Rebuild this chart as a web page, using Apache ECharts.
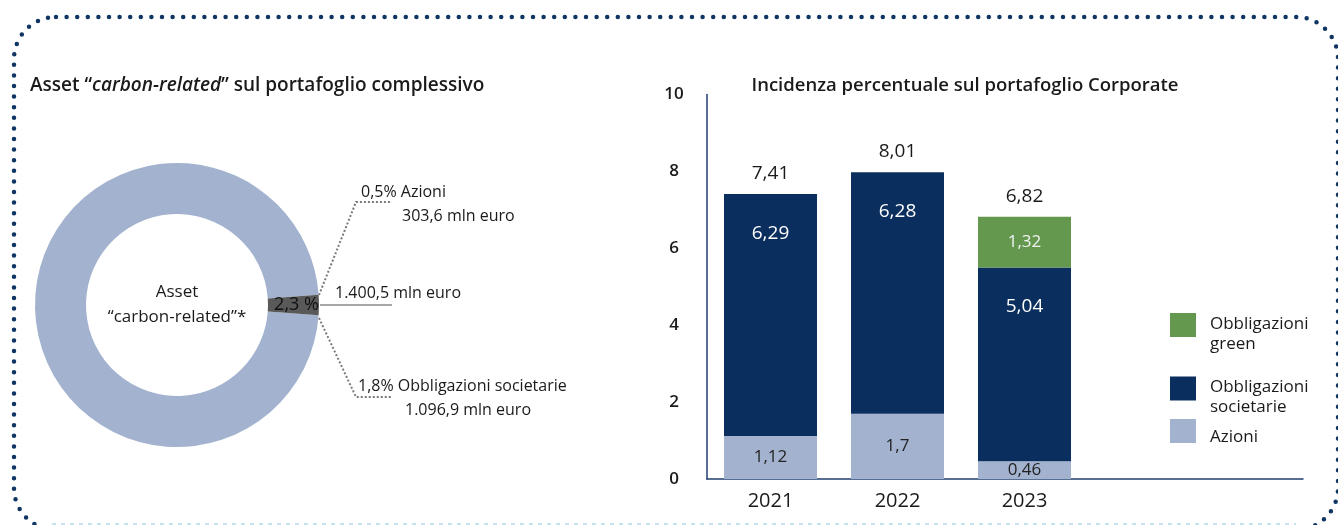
<!DOCTYPE html>
<html>
<head>
<meta charset="utf-8">
<script src="https://cdn.jsdelivr.net/npm/echarts@6/dist/echarts.min.js"></script>
<style>
html,body{margin:0;padding:0;background:#fff;}
#chart{width:1338px;height:525px;}
</style>
</head>
<body>
<div id="chart"></div>
<script>
// ---- Data ----
var pieNames = ['Altro portafoglio', 'Asset "carbon-related"'];
var pieShares = [97.7, 2.3];
var breakdownNames = ['Azioni', 'Obbligazioni societarie'];
var breakdownShares = [0.5, 1.8];
var breakdownAmounts = [303.6, 1096.9];
var carbonAmount = 1400.5;

var years = ['2021', '2022', '2023'];
var azioni = [1.12, 1.7, 0.46];
var obbSocietarie = [6.29, 6.28, 5.04];
var obbGreen = [null, null, 1.32];
var totals = [7.41, 8.01, 6.82];
var yTicks = [0, 2, 4, 6, 8, 10];

// ---- Helpers ----
function itNum(v, dec) {
  var s = v.toFixed(dec);
  var parts = s.split('.');
  parts[0] = parts[0].replace(/\B(?=(\d{3})+(?!\d))/g, '.');
  return parts.join(',');
}
function comma(v) { return String(v).replace('.', ','); }

var FONT = '"Open Sans", "Noto Sans", sans-serif';
var NAVY = '#0a2f5e';
var LIGHT = '#a3b3cf';
var GREEN = '#64984f';
var TXT = '#1a1a1a';

var chart = echarts.init(document.getElementById('chart'), null, {renderer: 'canvas'});

var labelTexts = [
  {x: 361, y: 192, t: itNum(breakdownShares[0], 1) + '% ' + breakdownNames[0]},
  {x: 402, y: 216, t: itNum(breakdownAmounts[0], 1) + ' mln euro'},
  {x: 335, y: 293, t: itNum(carbonAmount, 1) + ' mln euro'},
  {x: 358, y: 386, t: itNum(breakdownShares[1], 1) + '% ' + breakdownNames[1]},
  {x: 405, y: 410, t: itNum(breakdownAmounts[1], 1) + ' mln euro'}
];

var graphics = [
  // dotted rounded border
  {type: 'rect', z: 0, silent: true,
   shape: {x: 14, y: 17, width: 1324, height: 513, r: 42},
   style: {fill: 'none', stroke: '#0f3563', lineWidth: 4.5, lineDash: [0, 10.6], lineCap: 'round'}},
  {type: 'line', z: 1, silent: true,
   shape: {x1: 52, y1: 524, x2: 1296, y2: 524},
   style: {stroke: '#c5e3f0', lineWidth: 2, lineDash: [4, 5]}},
  // titles
  {type: 'text', x: 30, y: 86,
   style: {rich: {n: {fontFamily: FONT, fontSize: 19, fontWeight: 600, fill: TXT},
                  i: {fontFamily: FONT, fontSize: 19, fontWeight: 600, fontStyle: 'italic', fill: TXT}},
           text: '{n|Asset “}{i|carbon-related}{n|” sul portafoglio complessivo}', verticalAlign: 'middle'}},
  {type: 'text', x: 965, y: 86,
   style: {text: 'Incidenza percentuale sul portafoglio Corporate', fontFamily: FONT, fontSize: 18.5, fontWeight: 600,
           fill: TXT, align: 'center', verticalAlign: 'middle'}},
  // leader lines
  {type: 'polyline', silent: true, shape: {points: [[319, 295], [356, 202], [392, 202]]},
   style: {stroke: '#7a7a7a', lineWidth: 2, lineDash: [2, 2], fill: 'none'}},
  {type: 'polyline', silent: true, shape: {points: [[319, 318], [356, 397], [392, 397]]},
   style: {stroke: '#7a7a7a', lineWidth: 2, lineDash: [2, 2], fill: 'none'}},
  {type: 'line', silent: true, shape: {x1: 320, y1: 305, x2: 392, y2: 305},
   style: {stroke: '#8a8a8a', lineWidth: 1.5}}
];
labelTexts.forEach(function (d) {
  graphics.push({type: 'text', x: d.x, y: d.y,
    style: {text: d.t, fontFamily: FONT, fontSize: 16, fill: TXT, verticalAlign: 'middle', align: 'left'}});
});

var legendRich = {
  s2: {lineHeight: 18, height: 18, fontSize: 10},
  s1: {lineHeight: 12, height: 12, fontSize: 10},
  t: {fontFamily: FONT, fontSize: 17, color: TXT, lineHeight: 20, padding: [0, 0, 0, 9]}
};
var legendCommon = {
  orient: 'vertical', left: 1170, padding: 0,
  itemWidth: 26, itemHeight: 24, icon: 'rect', selectedMode: false,
  textStyle: {rich: legendRich},
  formatter: function (n) {
    var parts = n.replace('Obbligazioni ', 'Obbligazioni\n').split('\n');
    var spacer = parts.length > 1 ? '{s2| }' : '{s1| }';
    return spacer + '\n' + parts.map(function (p) { return '{t|' + p + '}'; }).join('\n');
  }
};

var option = {
  animation: false,
  backgroundColor: '#fff',
  textStyle: {fontFamily: FONT},
  graphic: graphics,
  grid: [
    {left: 707, width: 381, top: 94.5, bottom: 46},
    {left: 707, right: 35, top: 94.5, bottom: 46}
  ],
  xAxis: [
    {type: 'category', gridIndex: 0, data: years,
     axisLine: {show: false}, axisTick: {show: false},
     axisLabel: {fontFamily: FONT, fontSize: 20, color: TXT, margin: 12}},
    {type: 'category', gridIndex: 1, data: [''],
     axisLine: {show: true, lineStyle: {color: '#1f3f6f', width: 1.5}},
     axisTick: {show: false}, axisLabel: {show: false}}
  ],
  yAxis: [
    {type: 'value', gridIndex: 0, min: yTicks[0], max: yTicks[yTicks.length - 1], interval: 2,
     splitLine: {show: false},
     axisLine: {show: true, lineStyle: {color: '#1f3f6f', width: 1.5}},
     axisTick: {show: false},
     axisLabel: {fontFamily: FONT, fontSize: 17, fontWeight: 600, color: TXT, align: 'center', margin: 33}},
    {type: 'value', gridIndex: 1, show: false, min: 0, max: 10}
  ],
  legend: [
    Object.assign({}, legendCommon, {
      data: ['Obbligazioni green', 'Obbligazioni societarie'], top: 296, itemGap: 7
    }),
    Object.assign({}, legendCommon, {
      data: ['Azioni'], top: 415
    })
  ],
  series: [
    {type: 'pie', center: [177, 305], radius: [91, 142],
     startAngle: 360 - 360 * pieShares[1] / 200,
     clockwise: true, silent: true,
     data: [
       {name: pieNames[0], value: pieShares[0], itemStyle: {color: LIGHT},
        label: {show: true, position: 'center', formatter: 'Asset\n“carbon-related”*',
                fontFamily: FONT, fontSize: 17, lineHeight: 25, color: TXT}},
       {name: pieNames[1], value: pieShares[1], itemStyle: {color: '#595959'},
        label: {show: true, position: 'inside', formatter: function (p) { return comma(p.value) + ' %'; },
                fontFamily: FONT, fontSize: 18, color: '#111'}}
     ],
     labelLine: {show: false}},
    {name: 'Azioni', type: 'bar', stack: 'tot', xAxisIndex: 0, yAxisIndex: 0, barWidth: 93,
     itemStyle: {color: LIGHT}, data: azioni,
     label: {show: true, position: 'inside', fontFamily: FONT, fontSize: 17, color: '#222',
             formatter: function (p) { return comma(p.value); }}},
    {name: 'Obbligazioni societarie', type: 'bar', stack: 'tot', barWidth: 93,
     itemStyle: {color: NAVY}, data: obbSocietarie,
     label: {show: true, position: 'insideTop', distance: 30, fontFamily: FONT, fontSize: 19, color: '#fff',
             formatter: function (p) { return comma(p.value); }}},
    {name: 'Obbligazioni green', type: 'bar', stack: 'tot', barWidth: 93,
     itemStyle: {color: GREEN}, data: obbGreen,
     label: {show: true, position: 'inside', fontFamily: FONT, fontSize: 17, color: '#f2f2f2',
             formatter: function (p) { return comma(p.value); }}},
    {name: 'Totale', type: 'bar', stack: 'tot', barWidth: 93,
     itemStyle: {color: 'transparent'}, data: totals.map(function () { return 0; }),
     label: {show: true, position: 'top', distance: 11, fontFamily: FONT, fontSize: 19, color: TXT,
             formatter: function (p) { return comma(totals[p.dataIndex]); }}}
  ]
};
chart.setOption(option);
</script>
</body>
</html>
